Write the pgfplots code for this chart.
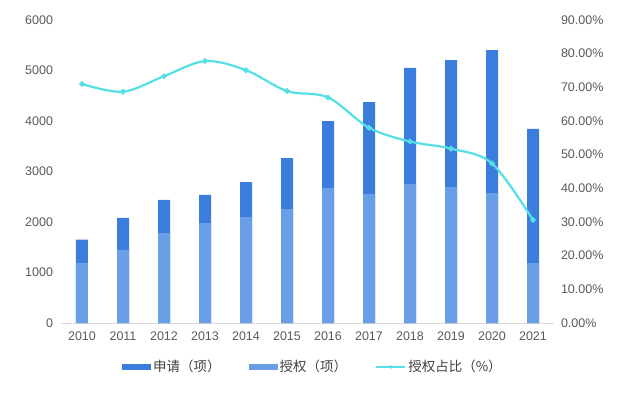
\documentclass[border=0pt]{standalone}
\usepackage{fontspec}
\setmainfont{Liberation Sans}
\newfontfamily\cjk{Noto Sans CJK SC}
\usepackage{pgfplots}
\pgfplotsset{compat=1.18}
\definecolor{appl}{HTML}{3B7DDD}
\definecolor{gran}{HTML}{6A9FE8}
\definecolor{ratio}{HTML}{55E0E8}
\definecolor{tickc}{HTML}{595959}
\definecolor{axisc}{HTML}{D9D9D9}
\definecolor{legc}{HTML}{404040}

\pgfplotstableread{
x apply grant
0 1650 1190
1 2080 1446
2 2440 1782
3 2535 1980
4 2792 2099
5 3267 2257
6 4000 2673
7 4376 2550
8 5050 2752
9 5208 2693
10 5406 2574
11 3842 1188
}\bars
\pgfplotstableread{
x ratio
0 71.0
1 68.7
2 73.3
3 77.8
4 75.1
5 68.9
6 67.0
7 58.0
8 53.9
9 51.8
10 47.4
11 30.6
}\ratiotab

\begin{document}
\begin{tikzpicture}[x=1pt,y=1pt]
\path (0,0) rectangle (640,392);
\begin{axis}[
  at={(61.5pt,69pt)}, anchor=south west,
  scale only axis, width=492pt, height=303pt,
  xmin=-0.5, xmax=11.5, ymin=0, ymax=6000,
  axis x line*=bottom, axis y line*=left,
  y axis line style={draw=none},
  x axis line style={draw=axisc, line width=0.8pt},
  xtick={0,...,11},
  xticklabels={2010,2011,2012,2013,2014,2015,2016,2017,2018,2019,2020,2021},
  ytick={0,1000,...,6000},
  major tick length=0pt,
  /pgf/number format/assume math mode=true,
  /pgf/number format/1000 sep={},
  tick label style={font=\fontsize{12.5}{14}\selectfont, text=tickc},
  yticklabel style={xshift=-5pt},
  xticklabel style={yshift=-5pt},
  legend style={at={(0.511,-0.145)}, anchor=center, draw=none, fill=none,
    legend columns=3, font=\cjk\fontsize{13.5}{15}\selectfont, text=legc,
    /tikz/every even column/.append style={column sep=26pt}},
  legend cell align=left,
]
\addplot[ybar, bar width=12pt, bar shift=0pt, fill=appl, draw=none,
  legend image code/.code={\fill[appl] (0pt,-3pt) rectangle (29pt,3pt);}]
  table[x=x, y=apply] {\bars};
\addlegendentry{申请（项）}
\addplot[ybar, bar width=12pt, bar shift=0pt, fill=gran, draw=none,
  legend image code/.code={\fill[gran] (0pt,-3pt) rectangle (29pt,3pt);}]
  table[x=x, y=grant] {\bars};
\addlegendentry{授权（项）}
\addlegendimage{legend image code/.code={\draw[ratio, line width=2.2pt] (0pt,0pt) -- (29pt,0pt); \fill[ratio] (14.5pt,0pt) circle (1.6pt);}}
\addlegendentry{授权占比（\%）}
\end{axis}
\begin{axis}[
  at={(61.5pt,69pt)}, anchor=south west,
  scale only axis, width=492pt, height=303pt,
  xmin=-0.5, xmax=11.5, ymin=0, ymax=90,
  axis x line=none, axis y line*=right,
  y axis line style={draw=none},
  ytick={0,10,...,90},
  major tick length=0pt,
  /pgf/number format/assume math mode=true,
  yticklabel={\pgfmathprintnumber[fixed,fixed zerofill,precision=2]{\tick}\%},
  tick label style={font=\fontsize{12.5}{14}\selectfont, text=tickc},
  yticklabel style={xshift=4pt},
]
\addplot[ratio, line width=2.2pt, smooth, tension=0.55, mark=*, mark size=1.6pt,
  mark options={fill=ratio, draw=ratio}] table[x=x, y=ratio] {\ratiotab};
\end{axis}
\end{tikzpicture}
\end{document}
